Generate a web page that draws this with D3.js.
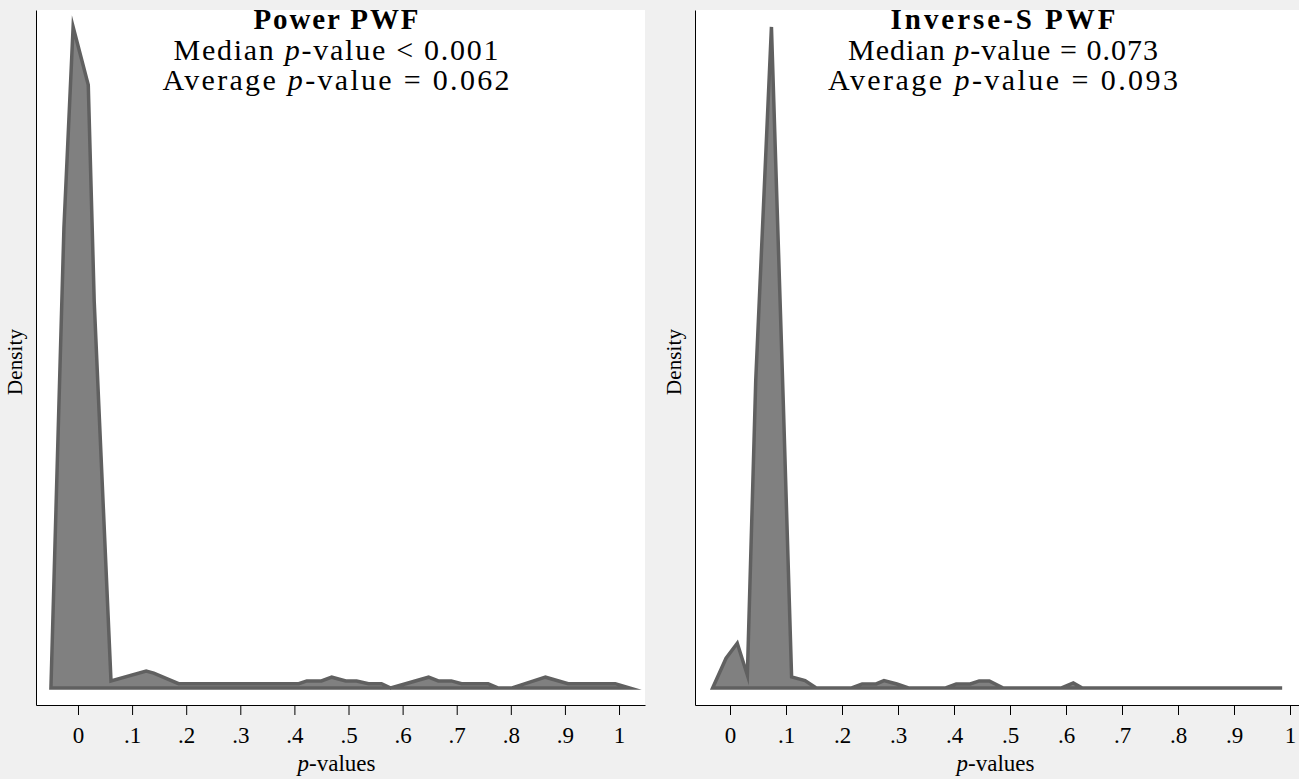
<!DOCTYPE html>
<html>
<head>
<meta charset="utf-8">
<script src="https://cdn.jsdelivr.net/npm/d3@7"></script>
<style>
  body { margin: 0; background: #f0f0f0; }
  svg { display: block; font-family: "Liberation Serif", "DejaVu Serif", serif; }
  .domain, .tick line { stroke: #000; stroke-width: 1; }
</style>
</head>
<body>
<svg id="chart" width="1299" height="779"></svg>
<script>
// Power PWF density (p-value, density)
const powerX = [-0.050, -0.026, -0.009, 0.019, 0.030, 0.061, 0.126, 0.140, 0.186, 0.408, 0.423, 0.450,
  0.469, 0.495, 0.515, 0.537, 0.561, 0.578, 0.648, 0.666, 0.690, 0.709, 0.758, 0.777, 0.801, 0.864,
  0.906, 0.993, 1.020];
const powerY = [0, 13.57, 19.5, 17.79, 11.4, 0.21, 0.50, 0.44, 0.13, 0.13, 0.21, 0.21,
  0.32, 0.21, 0.21, 0.13, 0.13, 0, 0.32, 0.21, 0.21, 0.13, 0.13, 0, 0, 0.32,
  0.13, 0.13, 0];

// Inverse-S PWF density
const invX = [-0.031, -0.007, 0.013, 0.031, 0.046, 0.074, 0.095, 0.110, 0.134, 0.154, 0.216, 0.236,
  0.261, 0.275, 0.298, 0.320, 0.384, 0.404, 0.429, 0.445, 0.463, 0.488, 0.591, 0.613, 0.629, 0.986];
const invY = [0, 0.88, 1.32, 0.38, 9.09, 19.5, 8.5, 0.33, 0.22, 0, 0, 0.12,
  0.12, 0.22, 0.12, 0, 0, 0.12, 0.12, 0.21, 0.21, 0, 0, 0.15, 0, 0];

const xTicks = [0, 0.1, 0.2, 0.3, 0.4, 0.5, 0.6, 0.7, 0.8, 0.9, 1];
const titles = ["Power PWF", "Inverse-S PWF"];
const medians = ["< 0.001", "= 0.073"];
const averages = ["= 0.062", "= 0.093"];

const svg = d3.select('#chart');
const plotTop = 10, axisY = 705;
const serif = '"Liberation Serif", "DejaVu Serif", serif';

const panels = [
  { left: 36, right: 645, xDom: [-0.0776, 1.048], xs: powerX, ys: powerY, tw: [165, 325, 347] },
  { left: 695, right: 1304, xDom: [-0.0625, 1.025], xs: invX, ys: invY, tw: [225, 310, 350] },
];

const y = d3.scaleLinear().domain([-0.5, 20]).range([axisY, plotTop]);

function fmtTick(v) {
  if (v === 0) return '0';
  if (v === 1) return '1';
  return d3.format('.1f')(v).replace('0.', '.');
}

panels.forEach((p, i) => {
  const g = svg.append('g');
  const x = d3.scaleLinear().domain(p.xDom).range([p.left, p.right]);
  const cx = (p.left + p.right) / 2;
  const tcx = i === 0 ? 336 : 1003;

  // plot region
  g.append('rect')
    .attr('x', p.left)
    .attr('y', plotTop)
    .attr('width', p.right - p.left)
    .attr('height', axisY - plotTop)
    .attr('fill', '#fff');

  // density area
  const pts = p.xs.map((v, k) => [v, p.ys[k]]);
  const area = d3.area()
    .x(d => x(d[0]))
    .y0(y(0))
    .y1(d => y(d[1]));
  g.append('path')
    .datum(pts)
    .attr('d', area)
    .attr('fill', '#808080')
    .attr('stroke', '#606060')
    .attr('stroke-width', 3.5)
    .attr('stroke-linejoin', 'miter')
    .attr('stroke-miterlimit', 10);

  // axes
  const xAxis = g.append('g')
    .attr('transform', `translate(0,${axisY})`)
    .call(d3.axisBottom(x).tickValues(xTicks).tickFormat(fmtTick).tickSize(10).tickSizeOuter(0).tickPadding(12));
  xAxis.selectAll('.tick text')
    .style('font-size', '23px')
    .style('font-family', serif);
  g.append('g')
    .attr('transform', `translate(${p.left},0)`)
    .call(d3.axisLeft(y).tickValues([]).tickSizeOuter(0));

  // axis titles
  const xt = g.append('text')
    .attr('x', cx - 4)
    .attr('y', 771)
    .attr('text-anchor', 'middle')
    .attr('font-size', 23);
  xt.append('tspan').attr('font-style', 'italic').text('p');
  xt.append('tspan').text('-values');

  g.append('text')
    .attr('transform', `translate(${p.left - 14},${362}) rotate(-90)`)
    .attr('text-anchor', 'middle')
    .attr('font-size', 21)
    .attr('textLength', 66)
    .attr('lengthAdjust', 'spacing')
    .text('Density');

  // titles
  g.append('text')
    .attr('x', tcx)
    .attr('y', 29)
    .attr('text-anchor', 'middle')
    .attr('font-size', 29)
    .attr('font-weight', 'bold')
    .attr('textLength', p.tw[0])
    .attr('lengthAdjust', 'spacing')
    .text(titles[i]);

  const m = g.append('text')
    .attr('x', tcx)
    .attr('y', 60)
    .attr('text-anchor', 'middle')
    .attr('font-size', 30)
    .attr('textLength', p.tw[1])
    .attr('lengthAdjust', 'spacing');
  m.append('tspan').text('Median ');
  m.append('tspan').attr('font-style', 'italic').text('p');
  m.append('tspan').text('-value ' + medians[i]);

  const a = g.append('text')
    .attr('x', tcx)
    .attr('y', 90)
    .attr('text-anchor', 'middle')
    .attr('font-size', 30)
    .attr('textLength', p.tw[2])
    .attr('lengthAdjust', 'spacing');
  a.append('tspan').text('Average ');
  a.append('tspan').attr('font-style', 'italic').text('p');
  a.append('tspan').text('-value ' + averages[i]);
});
</script>
</body>
</html>
